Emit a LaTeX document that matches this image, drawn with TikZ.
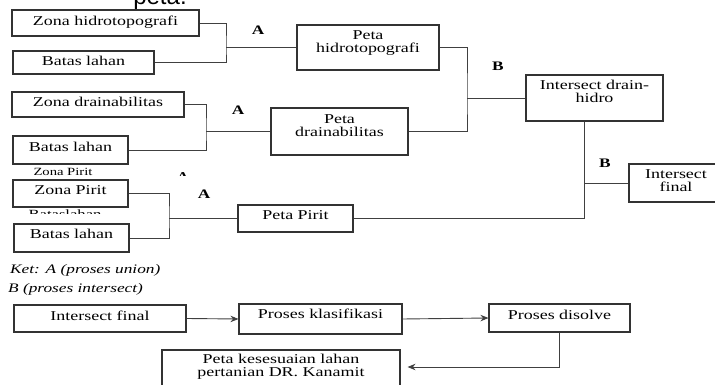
\documentclass[tikz,border=0pt]{standalone}
\usepackage{fontspec}
\setmainfont{Liberation Serif}[FakeStretch=1.33]
\newfontfamily\judulfont{Liberation Sans}
\usetikzlibrary{arrows.meta}

\tikzset{
  kotak/.style={draw=black!80, line width=1.1pt, fill=white, align=center,
    inner sep=0pt, text height=9.5pt, font=\fontsize{13.5}{13}\selectfont},
  duabaris/.style={text height=22.5pt},
  garis/.style={draw=black!75, line width=0.9pt},
  panah/.style={garis, -{Stealth[length=8pt,width=6.5pt]}},
  proses/.style={font=\bfseries\fontsize{13}{13}\selectfont},
  ket/.style={anchor=west, inner sep=0pt, font=\itshape\fontsize{13}{13}\selectfont},
  kecil/.style={anchor=base, inner sep=0pt, font=\fontsize{11}{11}\selectfont},
}

\begin{document}
\begin{tikzpicture}[x=1pt,y=-1pt]
		\useasboundingbox (0,0) rectangle (715,385);
		% judul (terpotong)
		\node[anchor=base, inner sep=0pt, font=\judulfont\fontsize{24}{24}\selectfont] (judul) at (160,4.5) {peta.};

		% hidrotopografi
		\node[kotak, minimum width=187pt, minimum height=26pt, text depth=4.3pt] (zh) at (105.5,23) {Zona hidrotopografi};
		\node[kotak, minimum width=141pt, minimum height=23pt, text depth=3.3pt] (bl1) at (83.5,62.5) {Batas lahan};
		\node[kotak, duabaris, minimum width=142pt, minimum height=45pt, text depth=12.3pt] (ph) at (368,47.5) {Peta\\hidrotopografi};
		\coordinate (a1) at (226,47.5);
		\draw[garis] (zh.east) -| (a1) |- (bl1.east);
		\draw[garis] (a1) -- (ph.west);
		\node[proses] (lA1) at (258,30) {A};

		% drainabilitas
		\node[kotak, minimum width=172pt, minimum height=25pt, text depth=5.3pt] (zd) at (98,104.5) {Zona drainabilitas};
		\node[kotak, minimum width=115pt, minimum height=28pt, text depth=6.3pt] (bl2) at (70.5,150) {Batas lahan};
		\node[kotak, duabaris, minimum width=137pt, minimum height=47pt, text depth=13.3pt] (pd) at (339.5,131.5) {Peta\\drainabilitas};
		\coordinate (a2) at (206,131.5);
		\draw[garis] (zd.east) -| (a2) |- (bl2.east);
		\draw[garis] (a2) -- (pd.west);
		\node[proses] (lA2) at (238,110) {A};

		% intersect drain-hidro
		\node[kotak, duabaris, minimum width=137pt, minimum height=46pt, text depth=14.3pt] (idh) at (594.5,98) {Intersect drain-\\hidro};
		\coordinate (b1) at (467,98);
		\draw[garis] (ph.east) -| (b1) |- (pd.east);
		\draw[garis] (b1) -- (idh.west);
		\node[proses] (lB1) at (498,66) {B};

		% pirit (teks yang tertutup)
		\node[kecil] (zpk) at (63,175.5) {Zona Pirit};
		\begin{scope}
			\clip (0,200) rectangle (140,213.5);
			\node[kecil, font=\fontsize{12.5}{12.5}\selectfont] (blk) at (65,218) {Bataslahan};
		\end{scope}
		\begin{scope}
			\clip (170,165) rectangle (200,175.5);
			\node[anchor=base, inner sep=0pt, font=\bfseries\fontsize{12}{12}\selectfont] (lAk) at (183,180.5) {A};
		\end{scope}
		\node[kotak, minimum width=115pt, minimum height=27pt, text depth=7.3pt] (zp) at (70.5,193.5) {Zona Pirit};
		\node[kotak, minimum width=115pt, minimum height=28pt, text depth=8.3pt] (bl3) at (71.5,238) {Batas lahan};
		\node[kotak, minimum width=115pt, minimum height=27pt, text depth=7.3pt] (pp) at (295.5,218.5) {Peta Pirit};
		\coordinate (a3) at (169,218.5);
		\draw[garis] (zp.east) -| (a3) |- (bl3.east);
		\draw[garis] (a3) -- (pp.west);
		\node[proses] (lA3) at (204,194) {A};

		% intersect final
		\node[kotak, duabaris, minimum width=94pt, minimum height=38pt, text depth=5.3pt] (if1) at (676,183) {Intersect\\final};
		\coordinate (b2) at (584,183);
		\draw[garis] (pp.east) -| (idh.south -| b2);
		\draw[garis] (b2) -- (if1.west);
		\node[proses] (lB2) at (605,163) {B};

		% keterangan
		\node[ket] (ket1) at (10,270) {Ket: A (proses union)};
		\node[ket] (ket2) at (8,289) {B (proses intersect)};

		% alur akhir
		\node[kotak, minimum width=172pt, minimum height=27pt, text depth=5.3pt] (if2) at (100,318.5) {Intersect final};
		\node[kotak, minimum width=163pt, minimum height=30pt, text depth=10.3pt] (pk) at (320.5,319) {Proses klasifikasi};
		\node[kotak, minimum width=141pt, minimum height=28pt, text depth=6.3pt] (pdis) at (559.5,318) {Proses disolve};
		\node[kotak, duabaris, minimum width=238pt, minimum height=42pt, text depth=11.3pt] (pks) at (281,371) {Peta kesesuaian lahan\\pertanian DR. Kanamit};
		\draw[panah] (if2.east) -- (pk.west);
		\draw[panah] (pk.east) -- (pdis.west);
		\draw[panah] (pdis.south) |- ([shift={(7,-4)}]pks.east);
	\end{tikzpicture}
\end{document}
